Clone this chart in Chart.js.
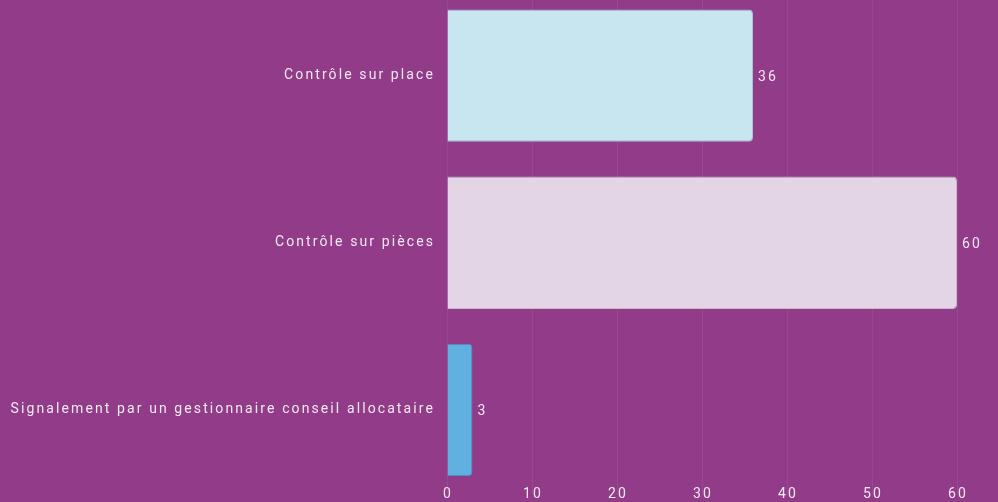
<html>
  <head>
    <script src="https://cdn.jsdelivr.net/npm/chart.js"></script>
    <meta charset="UTF-8" />
    <style>
      html, body { margin: 0; padding: 0; background: #913b89; overflow: hidden; }
      #wrap { position: absolute; left: 0; top: -8px; width: 998px; height: 510px; }
    </style>
  </head>
  <body>
    <div id="wrap"><canvas id="myChart"></canvas></div>
    <script>
      const categories = [
        "Contrôle sur place",
        "Contrôle sur pièces",
        "Signalement par un gestionnaire conseil allocataire",
      ];
      const values = [36, 60, 3];
      const xTicks = [0, 10, 20, 30, 40, 50, 60];
      const fills = ["#c8e6ef", "#e3d5e6", "#60b1e0"];
      const borders = ["#a3c4d3", "#c9b5cd", "#4a8fc2"];

      const textColor = "#f1e9f0";
      const font = { family: "Roboto", size: 14 };
      const letters = "2.1px";

      // wide letter spacing like the original labels
      const spacing = {
        id: "spacing",
        beforeDraw(chart) {
          chart.ctx.letterSpacing = letters;
        },
      };

      // values after each bar, and x tick labels sitting over the plot bottom
      const extraLabels = {
        id: "extraLabels",
        afterDatasetsDraw(chart) {
          const ctx = chart.ctx;
          const meta = chart.getDatasetMeta(0);
          const x = chart.scales.x;
          ctx.save();
          ctx.letterSpacing = letters;
          ctx.fillStyle = textColor;
          ctx.font = "14px Roboto";
          ctx.textBaseline = "middle";
          ctx.textAlign = "left";
          meta.data.forEach((bar, i) => {
            ctx.fillText(values[i], bar.x + 5, bar.y + 2);
          });
          ctx.textAlign = "center";
          xTicks.forEach((v) => {
            ctx.fillText(String(v), x.getPixelForValue(v) + 1, chart.chartArea.bottom + 1);
          });
          ctx.restore();
        },
      };

      new Chart(document.getElementById("myChart"), {
        type: "bar",
        data: {
          labels: categories,
          datasets: [
            {
              data: values,
              backgroundColor: fills,
              borderColor: borders,
              borderWidth: 1,
              borderRadius: 4,
              barPercentage: 0.9,
              categoryPercentage: 0.88,
            },
          ],
        },
        options: {
          indexAxis: "y",
          responsive: true,
          maintainAspectRatio: false,
          animation: false,
          layout: { padding: { left: 0, right: 41, top: 0, bottom: 0 } },
          plugins: { legend: { display: false }, tooltip: { enabled: false } },
          scales: {
            x: {
              min: 0,
              max: 60,
              afterBuildTicks: (scale) => {
                scale.ticks = xTicks.map((v) => ({ value: v }));
              },
              afterFit: (scale) => {
                scale.height = 8.5;
                scale.paddingLeft = 0;
                scale.paddingRight = 0;
              },
              grid: { color: "rgba(255,255,255,0.07)", drawTicks: false },
              border: { display: false },
              ticks: { display: false },
            },
            y: {
              afterFit: (scale) => {
                scale.width = 447;
                scale.paddingTop = 0;
                scale.paddingBottom = 0;
              },
              grid: { display: false, drawTicks: false },
              border: { display: false },
              ticks: { color: textColor, font: font, padding: 12 },
            },
          },
        },
        plugins: [spacing, extraLabels],
      });
    </script>
  </body>
</html>
